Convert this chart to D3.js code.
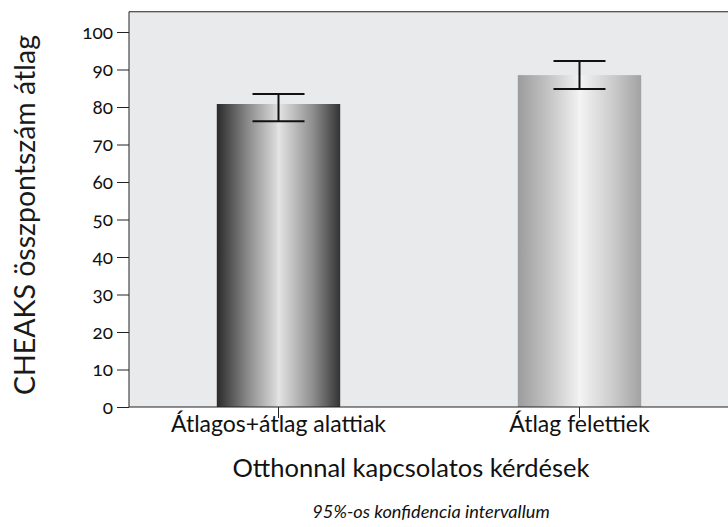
<!doctype html>
<html lang="hu">
<head>
  <meta charset="utf-8">
  <title>CHEAKS</title>
  <style>
  body { margin: 0; background: #fff; }
  svg { display: block; font-family: Lato, "Open Sans", sans-serif; }
  .yax .tick text { font-variant-numeric: oldstyle-nums; font-feature-settings: "onum" 1; }
  </style>
</head>
<body>
  <div id="chart"></div>
  <script src="https://cdn.jsdelivr.net/npm/d3@7"></script>
  <script>
    var categories = ['Átlagos+átlag alattiak', 'Átlag felettiek'];
    var means = [80.8, 88.5];
    var ciLow = [76.2, 84.8];
    var ciHigh = [83.5, 92.3];
    var yTicks = [0, 10, 20, 30, 40, 50, 60, 70, 80, 90, 100];

    var width = 728, height = 527;
    var left = 129, bottom = 407;

    var svg = d3.select('#chart').append('svg')
        .attr('width', width)
        .attr('height', height);

    var y = d3.scaleLinear().domain([0, 100]).range([bottom, 32]);
    var x = d3.scaleBand().domain(categories)
        .range([128, 730])
        .paddingInner(0.59)
        .paddingOuter(0.295);

    // gradients, dark one and light one
    var defs = svg.append('defs');
    var grads = [
      ['#2a2a2a', '#8a8a8a', '#d8d8d8', '#e4e4e4', '#8e8e8e', '#333'],
      ['#9c9c9c', '#c4c4c4', '#eeeeee', '#f4f4f4', '#cacaca', '#a2a2a2']
    ];
    grads.forEach(function(c, i) {
      var g = defs.append('linearGradient').attr('id', 'g' + i)
          .attr('x1', '0').attr('x2', '1').attr('y1', '0').attr('y2', '0');
      var offs = [0, 0.25, 0.48, 0.5, 0.78, 1];
      c.forEach(function(col, j) {
        g.append('stop').attr('offset', offs[j]).attr('stop-color', col);
      });
    });

    // plot background
    svg.append('rect')
        .attr('x', left).attr('y', y(105.4))
        .attr('width', width - left).attr('height', bottom - y(105.4))
        .attr('fill', '#e9eaec');
    svg.append('line')
        .attr('x1', left).attr('x2', width)
        .attr('y1', y(105.4)).attr('y2', y(105.4))
        .attr('stroke', '#222').attr('stroke-width', 1.2);

    svg.selectAll('rect.bar').data(categories).enter()
      .append('rect').attr('class', 'bar')
        .attr('x', function(d) { return x(d); })
        .attr('y', function(d, i) { return y(means[i]); })
        .attr('width', x.bandwidth())
        .attr('height', function(d, i) { return bottom - y(means[i]); })
        .attr('fill', function(d, i) { return 'url(#g' + i + ')'; });

    // error bars
    var eb = svg.selectAll('g.err').data(categories).enter()
      .append('g').attr('class', 'err')
        .attr('stroke', '#111').attr('stroke-width', 2);
    var cx = function(d) { return x(d) + x.bandwidth() / 2; };
    eb.append('line')
        .attr('x1', cx).attr('x2', cx)
        .attr('y1', function(d, i) { return y(ciHigh[i]); })
        .attr('y2', function(d, i) { return y(ciLow[i]); });
    [ciHigh, ciLow].forEach(function(arr) {
      eb.append('line')
          .attr('x1', function(d) { return cx(d) - 26; })
          .attr('x2', function(d) { return cx(d) + 26; })
          .attr('y1', function(d, i) { return y(arr[i]); })
          .attr('y2', function(d, i) { return y(arr[i]); });
    });

    var yAxis = svg.append('g').attr('class', 'yax')
        .attr('transform', 'translate(' + left + ',0)')
        .call(d3.axisLeft(y).tickValues(yTicks).tickSize(12).tickPadding(4))
        .attr('font-family', null).attr('font-size', null);
    yAxis.select('.domain').attr('d', 'M0,' + y(105.4) + 'V' + bottom).attr('stroke', '#222');
    yAxis.selectAll('.tick line').attr('stroke', '#222');
    yAxis.selectAll('.tick text').attr('font-size', 19).attr('fill', '#111');

    var xAxis = svg.append('g')
        .attr('transform', 'translate(0,' + bottom + ')')
        .call(d3.axisBottom(x).tickSize(11))
        .attr('font-family', null).attr('font-size', null);
    xAxis.select('.domain').attr('d', 'M' + left + ',0H' + width).attr('stroke', '#222');
    xAxis.selectAll('.tick line').attr('stroke', '#222');
    xAxis.selectAll('.tick text')
        .attr('y', 25).attr('dy', null)
        .attr('font-size', 23).attr('fill', '#111');

    svg.append('text')
        .attr('transform', 'translate(35,' + 215 + ') rotate(-90)')
        .attr('text-anchor', 'middle')
        .attr('font-size', 28.5).attr('fill', '#1a1a1a')
        .text('CHEAKS összpontszám átlag');

    svg.append('text')
        .attr('x', 411).attr('y', 477)
        .attr('text-anchor', 'middle')
        .attr('font-size', 25.5).attr('fill', '#111')
        .text('Otthonnal kapcsolatos kérdések');

    svg.append('text')
        .attr('x', 431).attr('y', 518)
        .attr('text-anchor', 'middle')
        .attr('font-size', 18.2).attr('font-style', 'italic').attr('fill', '#111')
        .text('95%-os konfidencia intervallum');
  </script>
</body>
</html>
